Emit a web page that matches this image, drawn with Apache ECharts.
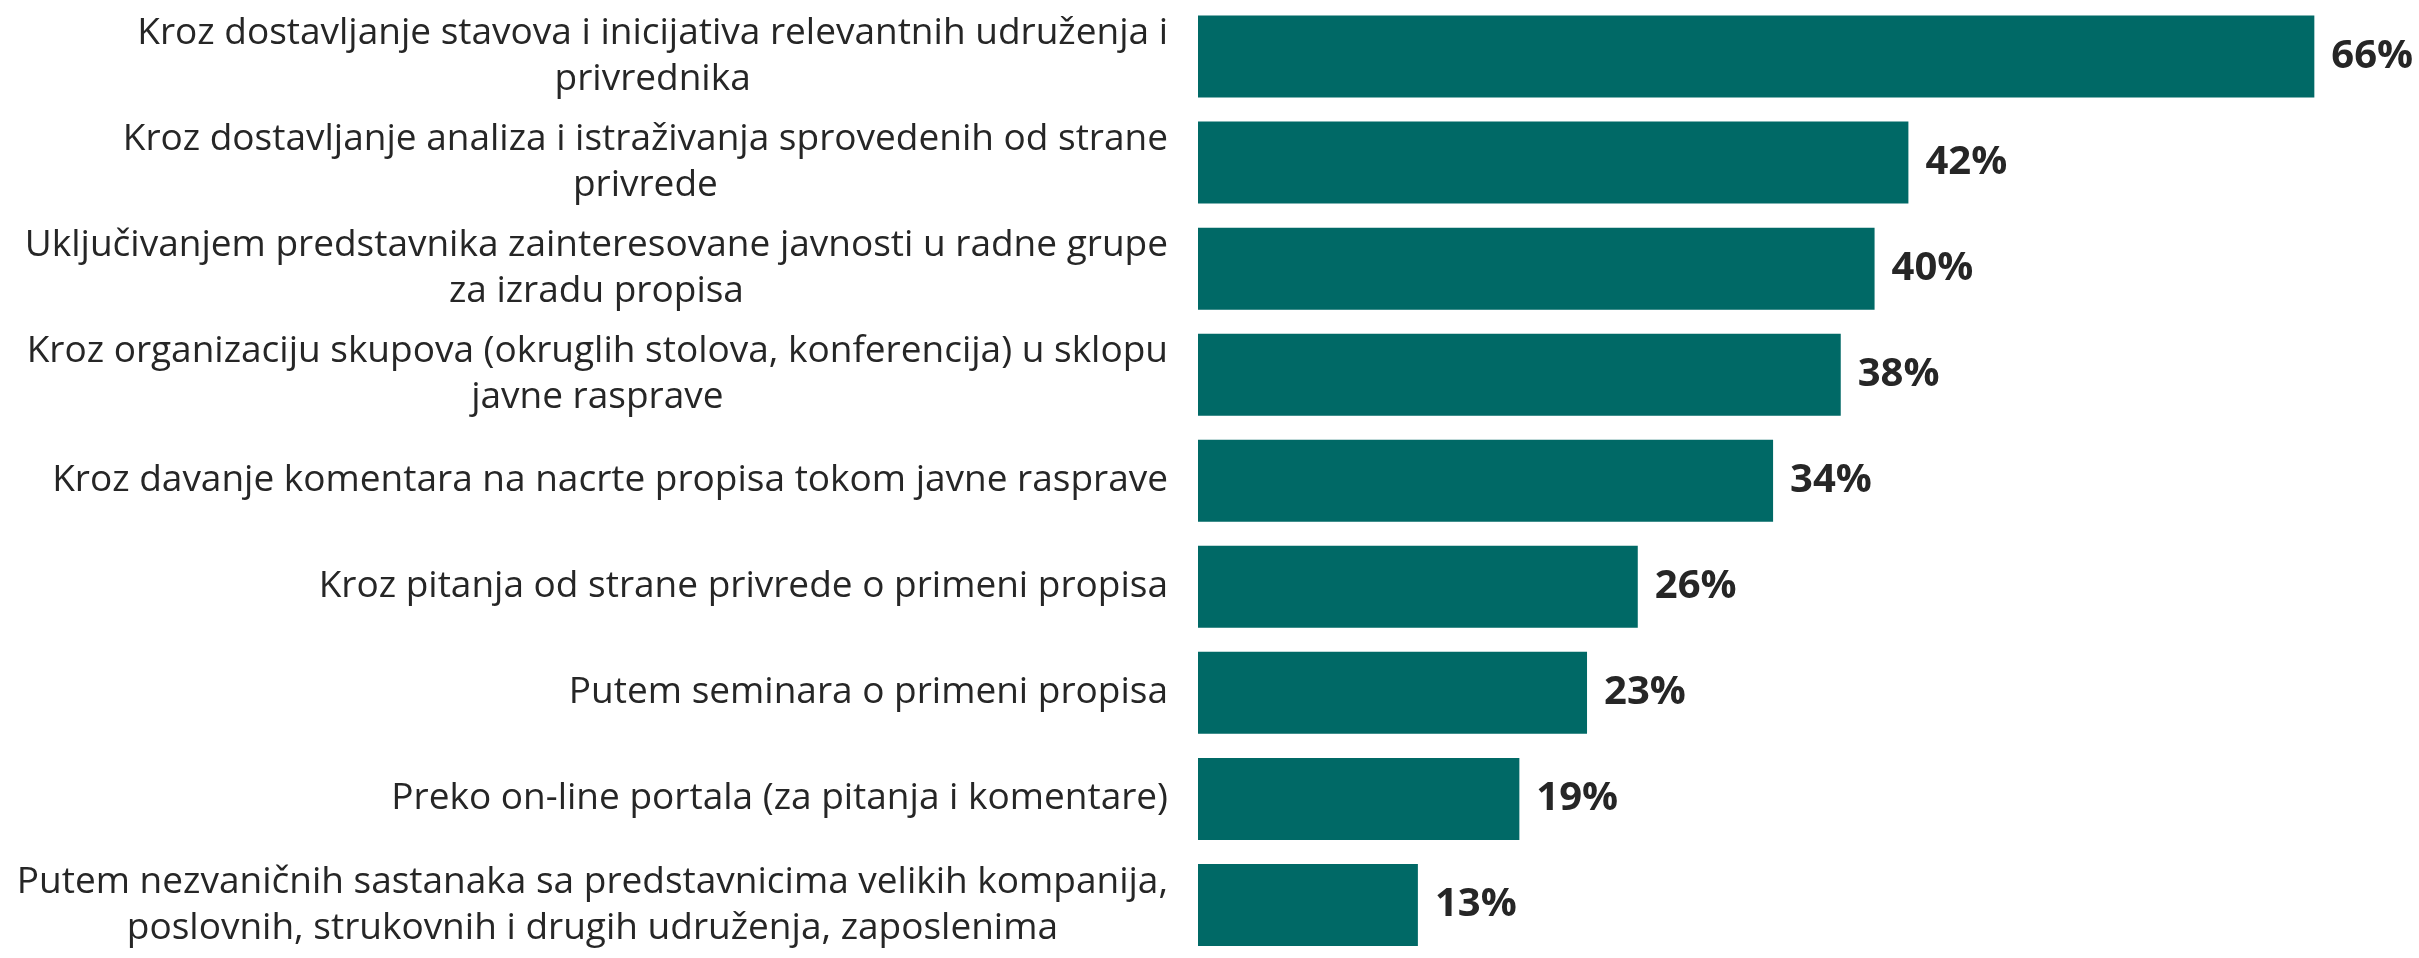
<!DOCTYPE html>
<html>
<head>
<meta charset="utf-8">
<script src="https://cdn.jsdelivr.net/npm/echarts@6/dist/echarts.min.js"></script>
<style>
  html, body { margin: 0; padding: 0; background: #ffffff; }
  #chart { width: 2419px; height: 958px; }
</style>
</head>
<body>
<div id="chart"></div>
<script>
// Categories (each label line separated by \n), top to bottom
const categories = [
  'Kroz dostavljanje stavova i inicijativa relevantnih udruženja i\nprivrednika',
  'Kroz dostavljanje analiza i istraživanja sprovedenih od strane\nprivrede',
  'Uključivanjem predstavnika zainteresovane javnosti u radne grupe\nza izradu propisa',
  'Kroz organizaciju skupova (okruglih stolova, konferencija) u sklopu\njavne rasprave',
  'Kroz davanje komentara na nacrte propisa tokom javne rasprave',
  'Kroz pitanja od strane privrede o primeni propisa',
  'Putem seminara o primeni propisa',
  'Preko on-line portala (za pitanja i komentare)',
  'Putem nezvaničnih sastanaka sa predstavnicima velikih kompanija,\nposlovnih, strukovnih i drugih udruženja, zaposlenima'
];

// Share of respondents, percent
const values = [66, 42, 40, 38, 34, 26, 23, 19, 13];

const chart = echarts.init(document.getElementById('chart'), null, { renderer: 'canvas' });

const textFont = '"Open Sans", "Noto Sans", sans-serif';

chart.setOption({
  backgroundColor: '#ffffff',
  animation: false,
  grid: { left: 1198, width: 1184, top: 3.5, height: 963, containLabel: false },
  xAxis: {
    type: 'value',
    min: 0,
    max: 70,
    show: false
  },
  yAxis: {
    type: 'category',
    data: categories,
    inverse: true,
    axisLine: { show: false },
    axisTick: { show: false },
    splitLine: { show: false },
    axisLabel: {
      margin: 30,
      formatter: function (v) {
        return v.split('\n').map(function (s) { return '{l|' + s + '}'; }).join('\n');
      },
      rich: {
        l: {
          fontFamily: textFont,
          fontSize: 37,
          color: '#262626',
          lineHeight: 46,
          align: 'center'
        }
      }
    }
  },
  series: [{
    type: 'bar',
    data: values,
    barWidth: 82,
    itemStyle: { color: '#006966' },
    label: {
      show: true,
      position: 'right',
      distance: 17,
      formatter: '{c}%',
      fontFamily: textFont,
      fontWeight: 'bold',
      fontSize: 40,
      color: '#262626'
    }
  }]
});
</script>
</body>
</html>
